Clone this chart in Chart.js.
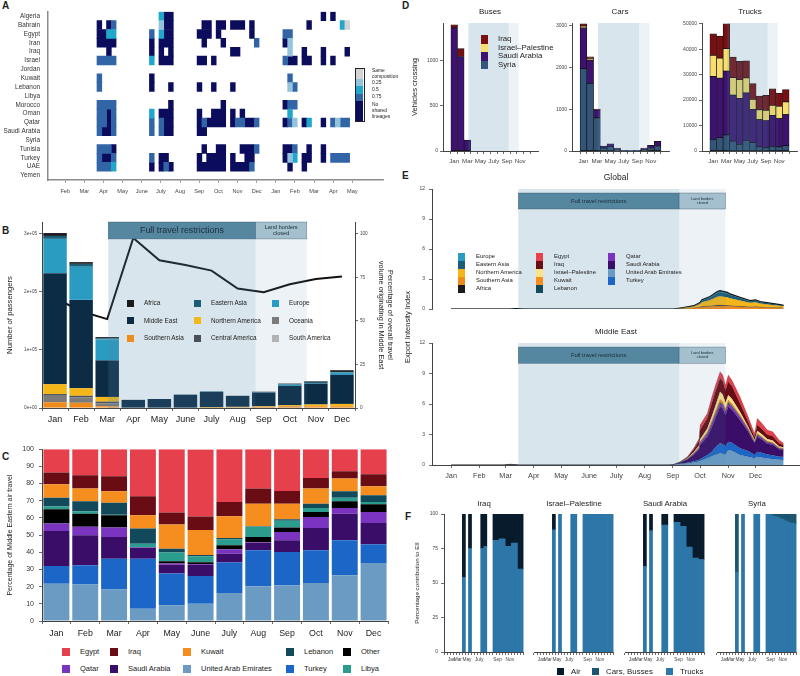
<!DOCTYPE html>
<html lang="en">
<head>
<meta charset="UTF-8">
<title>Middle East travel, restrictions and lineage export</title>
<script src="https://cdn.jsdelivr.net/npm/chart.js"></script>
<style>
  body { margin: 0; background: #fff; font-family: 'Liberation Sans', Arial, sans-serif; color: #222; }
  #page { position: relative; width: 800px; height: 676px; overflow: hidden; }
  .box { position: absolute; }
  .tag { position: absolute; font-weight: bold; font-size: 10px; line-height: 10px; }
  .lbl { position: absolute; white-space: pre; line-height: 1; color: #222; }
</style>
</head>
<body>
<div id="page">
  <div class="tag" style="left:2px;top:1px">A</div>
  <div class="tag" style="left:2px;top:226px">B</div>
  <div class="tag" style="left:2px;top:452px">C</div>
  <div class="tag" style="left:402px;top:1px">D</div>
  <div class="tag" style="left:402px;top:171px">E</div>
  <div class="tag" style="left:405px;top:512px">F</div>
</div>
<script>
// ---------- A: shared lineages between countries (weekly bins) ----------
const monthsA = ['Feb','Mar','Apr','May','June','July','Aug','Sep','Oct','Nov','Dec','Jan','Feb','Mar','Apr','May'];
const heatCountries = ['Algeria','Bahrain','Egypt','Iran','Iraq','Israel','Jordan','Kuwait','Lebanon','Libya',
  'Morocco','Oman','Qatar','Saudi Arabia','Syria','Tunisia','Turkey','UAE','Yemen'];
const heatLevels = ['Same\ncomposition', '0.25', '0.5', '0.75', 'No\nshared\nlineages'];
const heatColors = ['#d3d3d3', '#93c3dd', '#21a7cb', '#3265a6', '#0b0c5c'];
const weekOneAt = 2.66, weekLen = 0.249;   // first weekly bin, in month units
// per country: [first week, last week, level]
const heatCells = [
  [[13,13,2],[14,15,4],[47,47,4],[49,49,4]],
  [[0,0,4],[2,2,4],[3,3,3],[13,13,1],[14,15,4],[22,23,4],[25,26,4],[28,30,4],[32,32,4],[44,44,4],[51,51,2],[52,52,0]],
  [[0,1,4],[2,3,2],[11,11,3],[13,13,2],[14,15,4],[21,23,4],[25,25,4],[32,32,4],[39,40,3]],
  [[0,3,4],[11,11,4],[13,15,4],[22,22,4],[26,26,4],[33,33,3],[39,39,4],[40,40,1]],
  [[2,2,4],[11,11,4],[13,13,4],[15,15,4],[28,29,4],[40,40,1],[43,43,4],[47,47,4],[52,52,4]],
  [[0,3,3],[11,11,2],[13,15,4],[21,22,4],[24,24,4],[39,39,3],[40,41,4],[43,44,4],[47,47,4],[49,49,4]],
  [],
  [[0,0,3],[11,11,4],[40,40,3]],
  [[0,0,3],[11,11,4],[15,15,4],[21,21,4],[24,24,4],[28,28,4],[40,40,1],[41,41,3]],
  [],
  [[0,3,3],[15,15,4],[26,26,4],[39,39,4],[40,41,3]],
  [[0,1,3],[2,2,4],[3,3,3],[11,11,2],[13,15,4],[21,21,4],[24,26,4],[28,28,4],[30,30,4],[40,40,2]],
  [[0,1,3],[2,2,4],[3,3,3],[11,11,3],[13,13,3],[14,15,4],[21,21,4],[22,22,3],[23,26,4],[28,28,4],[29,30,3],[31,32,4],
   [33,33,3],[39,39,4],[40,40,3],[41,41,1],[43,43,4],[44,44,2],[47,47,4],[49,49,3],[50,50,1],[51,52,3]],
  [[0,0,3],[1,2,4],[3,3,3],[11,11,3],[13,13,3],[14,15,4],[21,22,4]],
  [],
  [[0,2,3],[3,3,4],[22,22,4],[25,26,4],[30,32,4],[33,33,3],[39,40,4],[41,41,3],[44,44,4],[47,47,4]],
  [[0,0,3],[1,2,4],[3,3,3],[11,11,3],[13,14,4],[21,21,4],[23,26,4],[28,28,4],[31,32,4],[39,39,4],[40,40,1],[41,41,2],
   [43,44,4],[47,47,4],[49,52,3]],
  [[0,2,3],[3,3,2],[11,11,4],[13,13,4],[14,14,3],[15,15,4],[21,26,4],[28,31,4],[32,32,3],[40,40,4],[43,43,4]],
  []
];

// ---------- B: air passengers by origin region ----------
const monthsB = ['Jan','Feb','Mar','Apr','May','June','July','Aug','Sep','Oct','Nov','Dec'];
const passAfrica          = [5000, 3000, 2000, 0, 0, 0, 0, 0, 1000, 1000, 1000, 3000];
const passEasternAsia     = [5000, 5000, 2000, 0, 0, 0, 1000, 0, 1000, 1000, 2000, 1000];
const passEurope          = [59000, 57000, 36000, 0, 0, 0, 0, 0, 0, 2000, 1000, 4000];
const passMiddleEast      = [191000, 152000, 63000, 14000, 15500, 23000, 26000, 19000, 23000, 33000, 36000, 50000];
const passNorthernAmerica = [17000, 13000, 8000, 0, 0, 0, 1000, 1000, 1000, 2000, 3000, 4000];
const passOceania         = [11000, 9000, 5000, 0, 0, 0, 0, 0, 0, 0, 0, 0];
const passSouthernAsia    = [10000, 9000, 3000, 0, 0, 0, 500, 1000, 2000, 3000, 3000, 3000];
const passCentralAmerica  = [3000, 3000, 3000, 0, 0, 0, 0, 0, 0, 0, 0, 0];
const passSouthAmerica    = [0, 0, 0, 0, 0, 0, 0, 0, 0, 0, 0, 0];
const shareMiddleEast     = [63, 55.5, 51, 97.5, 84.7, 82, 78.8, 68.5, 66.4, 71, 74, 75.5];
const ticksPassengers = [0, 100000, 200000, 300000];
const ticksShareME    = [0, 25, 50, 75, 100];
const periodsB = [2.04, 7.69, 9.65];   // restrictions start, land borders closed, reopening (month index)

// ---------- C: share of Middle Eastern air travel ----------
const shareUAE     = [21.7, 21.2, 18.4, 7.2, 9.1, 10.1, 16.3, 20.2, 20.8, 22.1, 26.6, 33.8];
const shareTurkey  = [10.3, 11.2, 17.9, 29.1, 18.5, 16.1, 17.7, 21.0, 19.4, 19.1, 20.4, 10.9];
const shareSaudi   = [20.4, 17.5, 12.6, 6.4, 5.2, 6.5, 5.2, 4.4, 6.8, 13.0, 15.5, 12.4];
const shareQatar   = [4.3, 4.9, 5.5, 0.3, 0.6, 0.5, 2.5, 0.3, 4.8, 6.4, 3.3, 6.4];
const shareOther   = [8.3, 7.7, 7.2, 0, 1.4, 1.0, 2.4, 3.0, 2.6, 2.9, 3.9, 4.5];
const shareLibya   = [1.6, 1.4, 0.3, 2.0, 5.0, 3.5, 3.3, 5.9, 3.9, 2.3, 2.1, 1.3];
const shareLebanon = [5.2, 5.8, 7.0, 8.8, 2.3, 0.7, 0.9, 0.3, 0.9, 2.5, 3.7, 3.9];
const shareKuwait  = [7.8, 7.4, 6.6, 7.8, 14.0, 14.6, 12.7, 13.2, 9.1, 8.8, 7.4, 5.2];
const shareIraq    = [6.8, 7.8, 8.8, 11.0, 7.0, 7.8, 8.3, 8.8, 7.4, 6.2, 4.3, 7.0];
const shareEgypt   = [13.6, 15.1, 15.7, 27.4, 36.9, 39.0, 30.7, 22.9, 24.3, 16.7, 12.8, 14.6];

// ---------- D: land border crossings ----------
const monthsD = ['Jan','','Mar','','May','','July','','Sep','','Nov',''];
const busSyria   = [0, 0, 0, 0, 0, 0, 0, 0, 0, 0, 0, 0];
const busSaudi   = [1365, 1048, 121, 0, 0, 0, 0, 0, 0, 0, 0, 0];
const busIsrael  = [0, 0, 0, 0, 0, 0, 0, 0, 0, 0, 0, 0];
const busIraq    = [35, 88, 0, 0, 0, 0, 0, 0, 0, 0, 0, 0];
const carSyria   = [1970, 1615, 792, 70, 100, 40, 10, 5, 10, 40, 60, 120];
const carSaudi   = [975, 555, 190, 50, 74, 31, 6, 5, 5, 31, 75, 110];
const carIsrael  = [40, 47, 0, 0, 0, 0, 0, 0, 0, 0, 0, 0];
const carIraq    = [55, 33, 23, 0, 0, 0, 0, 0, 0, 0, 0, 0];
const truckSyria  = [4600, 5200, 6300, 3900, 2600, 4200, 3300, 1600, 1200, 1800, 1600, 2100];
const truckSaudi  = [24700, 23400, 25100, 18100, 18100, 18600, 13100, 10700, 10700, 12200, 11100, 12200];
const truckIsrael = [8250, 7900, 8800, 6800, 7300, 5900, 3900, 3900, 4100, 3900, 4800, 5000];
const truckIraq   = [8500, 8650, 9800, 8100, 7200, 6700, 6150, 5400, 5900, 6550, 5250, 4800];
const ticksBus   = [0, 500, 1000];
const ticksCar   = [0, 1000, 2000, 3000];
const ticksTruck = [0, 10000, 20000, 30000, 40000, 50000];
const periodsD = [3.15, 9.25, 10.8];   // same periods, Jan = 1

// ---------- E: export intensity index (day of 2020) ----------
const monthStartDays = [0, 31, 60, 91, 121, 152, 182, 213, 244, 274, 305, 335];
const ticksEII = [0, 3, 6, 9, 12];
const periodsE = [74, 251, 302];
const globalDays = [0, 65, 72, 80, 245, 252, 260, 267, 274, 276, 285, 293, 296, 304, 307, 318, 329, 335, 340, 351, 362, 366];
const eiiSouthernAsia = [0, 0, 0.01, 0, 0, 0.03, 0.06, 0.09, 0.15, 0.2, 0.25, 0.3, 0.3, 0.28, 0.27, 0.22, 0.16, 0.18, 0.15, 0.12, 0.09, 0.08];
const eiiAfrica       = [0, 0, 0.01, 0, 0, 0.01, 0.02, 0.02, 0.04, 0.05, 0.06, 0.07, 0.07, 0.07, 0.06, 0.05, 0.04, 0.05, 0.04, 0.03, 0.03, 0.02];
const eiiNorthAm      = [0, 0, 0.01, 0, 0, 0.04, 0.09, 0.14, 0.3, 0.42, 0.58, 0.85, 0.9, 0.83, 0.75, 0.58, 0.42, 0.45, 0.36, 0.28, 0.2, 0.17];
const eiiEastAsia     = [0, 0, 0.01, 0, 0, 0.01, 0.03, 0.05, 0.1, 0.17, 0.25, 0.38, 0.42, 0.35, 0.31, 0.24, 0.16, 0.17, 0.14, 0.11, 0.08, 0.06];
const eiiEurope       = [0, 0, 0, 0, 0, 0.01, 0.02, 0.03, 0.06, 0.08, 0.11, 0.14, 0.15, 0.14, 0.12, 0.09, 0.07, 0.07, 0.06, 0.05, 0.03, 0.03];
const meDays = [0, 58, 66, 74, 240, 245, 252, 260, 267, 273, 274, 282, 287, 291, 296, 299, 302, 305, 309, 318, 327, 334, 337, 342, 348, 354, 361, 366];
const meUAE     = [0, 0, .02, 0, 0, .02, .08, .15, .25, .35, .39, .66, .85, 1.0, 1.15, 1.1, 1.0, 1.48, 1.4, .98, .82, .66, .82, .75, .65, .6, .52, .49];
const meTurkey  = [0, 0, 0, 0, 0, .01, .04, .08, .12, .15, .17, .32, .45, .75, .98, .95, .85, .81, .78, .66, .56, .32, .49, .45, .38, .36, .3, .33];
const meSaudi   = [0, 0, .04, 0, 0, .02, .1, .3, .65, 1.05, 1.41, 1.81, 2.45, 2.9, 3.61, 3.5, 3.05, 3.45, 3.25, 2.78, 1.9, 1.15, 1.48, 1.3, 1.07, 1.03, .72, .66];
const meQatar   = [0, 0, 0, 0, 0, 0, .01, .03, .05, .1, .16, .26, .3, .3, .32, .3, .28, .32, .3, .27, .16, .08, .16, .15, .12, .12, .08, .06];
const meLebanon = [0, 0, 0, 0, 0, 0, .01, .02, .03, .04, .05, .08, .1, .1, .12, .12, .1, .1, .1, .08, .06, .03, .06, .05, .05, .04, .03, .03];
const meKuwait  = [0, 0, 0, 0, 0, 0, .01, .03, .06, .1, .11, .15, .2, .25, .28, .27, .24, .23, .22, .15, .1, .05, .1, .09, .08, .07, .05, .07];
const meIsrael  = [0, 0, 0, 0, 0, 0, .02, .05, .1, .15, .23, .32, .45, .55, .75, .7, .6, .49, .46, .32, .17, .17, .27, .24, .2, .19, .12, .1];
const meIraq    = [0, 0, .02, 0, 0, .01, .04, .1, .26, .45, .92, .99, 1.3, 1.4, 1.31, 1.3, 1.2, 1.31, 1.25, .82, .49, .26, .55, .5, .42, .42, .3, .23];
const meEgypt   = [0, 0, .01, 0, 0, 0, .02, .06, .12, .23, .49, .49, .62, .62, .66, .61, .55, .66, .6, .66, .49, .39, .66, .57, .47, .45, .34, .16];

// ---------- F: contribution to EII by transport mode (26 slots) ----------
const fSlots = ['', '', 'Jan', '', 'Mar', '', '', 'May', '', '', '', 'July', '', '', '', '', '', 'Sep', '', '', '', 'Nov', '', '', '', ''];
const ticksPct = [0, 25, 50, 75, 100];
const N = null;
const iraqTrucks   = [N,N,N,N,N,N,54,N,75,N,N,N,75,76.5,N,N,81,81,82,82,76.5,76.5,79,79,60,60];
const iraqAir      = [N,N,N,N,N,N,46,N,25,N,N,N,25,23.5,N,N,19,19,18,18,23.5,23.5,21,21,40,40];
const israelTrucks = [N,N,N,N,N,N,88.6,N,100,N,N,N,100,100,N,N,100,100,100,100,100,100,100,100,100,100];
const israelAir    = [N,N,N,N,N,N,11.4,N,N,N,N,N,N,N,N,N,N,N,N,N,N,N,N,N,N,N];
const saudiTrucks  = [N,N,N,N,N,N,62,N,88,N,N,N,92,92,N,N,94,94,91,91,76,76,68,68,67,67];
const saudiAir     = [N,N,N,N,N,N,38,N,12,N,N,N,8,8,N,N,6,6,9,9,24,24,32,32,33,33];
const syriaTrucks  = [N,N,N,N,N,N,58,N,100,N,N,N,100,100,N,N,100,99.5,98.5,98,97,96,95,94,93.5,93];
const syriaCars    = [N,N,N,N,N,N,42,N,N,N,N,N,N,N,N,N,0,0.5,1.5,2,3,4,5,6,6.5,7];

// ---------- colours ----------
const regionColors = { 'Africa': '#1b1b1d', 'Eastern Asia': '#1c5d78', 'Europe': '#2b9cc1', 'Middle East': '#0c2b44',
  'Northern America': '#f4b619', 'Oceania': '#7b7b7b', 'Southern Asia': '#ef8a1d', 'Central America': '#4b5057', 'South America': '#b3b3b3' };
const countryColors = { 'Egypt': '#e5404c', 'Iraq': '#690c14', 'Kuwait': '#f58e1e', 'Lebanon': '#124a5b', 'Other': '#000000',
  'Qatar': '#7a34c0', 'Saudi Arabia': '#3a0e68', 'United Arab Emirates': '#6b9bc3', 'Turkey': '#1c66c8', 'Libya': '#2a9d8e',
  'Israel–Palestine': '#fbe38a' };
const borderColors = { 'Iraq': '#7a0f12', 'Israel–Palestine': '#f7de6f', 'Saudi Arabia': '#3e1270', 'Syria': '#335579' };
const modeColors = { 'Air': '#071b2d', 'Cars, Busses': '#1b5571', 'Trucks': '#2c76a8' };
const SH_FULL = 'rgba(80,135,170,0.22)', SH_LAND = 'rgba(80,135,170,0.11)';
const HB_FULL = '#5687a1', HB_LAND = '#a4c0ce';

// ---------- helpers ----------
Chart.defaults.font.family = "'Liberation Sans', Arial, sans-serif";
Chart.defaults.color = '#333';
Chart.defaults.animation = false;
Chart.defaults.events = [];
Chart.defaults.maintainAspectRatio = false;
Chart.defaults.plugins.legend.display = false;
Chart.defaults.plugins.tooltip.enabled = false;

const page = document.getElementById('page');

function merge(a, b) {
  for (const k in b) {
    const v = b[k];
    if (v && typeof v === 'object' && !Array.isArray(v) && a[k] && typeof a[k] === 'object') merge(a[k], v);
    else a[k] = v;
  }
  return a;
}
function axis(extra, col) {
  const c = col || '#444';
  return merge({
    grid: { display: true, drawOnChartArea: false, drawTicks: true, tickLength: 3, color: c, lineWidth: 0.8 },
    border: { display: true, color: c, width: 1 },
    ticks: { font: { size: 5 }, color: '#444', padding: 2, maxRotation: 0, autoSkip: false }
  }, extra || {});
}
const fixW = w => s => { s.width = w; };
const fixH = h => s => { s.height = h; };
const tickAt = list => s => { s.ticks = list.map(v => ({ value: v })); };

function canvasAt(left, top, w, h) {
  const d = document.createElement('div');
  d.className = 'box';
  d.style.cssText = `left:${left}px;top:${top}px;width:${w}px;height:${h}px`;
  const c = document.createElement('canvas');
  d.appendChild(c);
  page.appendChild(d);
  return c;
}
function text(str, left, top, css) {
  const t = document.createElement('div');
  t.className = 'lbl';
  t.textContent = str;
  t.style.cssText = `left:${left}px;top:${top}px;` + (css || '');
  page.appendChild(t);
  return t;
}
function centered(str, x, y, size, css) {
  return text(str, x, y, `font-size:${size}px;transform:translate(-50%,-50%);` + (css || ''));
}
// legend keys: items [[name, colour]], cfg {cols, rows, w, h, gap, font, byCol}
function legend(items, cfg) {
  items.forEach(([name, color], i) => {
    const nr = cfg.rows.length, nc = cfg.cols.length;
    const c = cfg.byCol ? Math.floor(i / nr) : i % nc;
    const r = cfg.byCol ? i % nr : Math.floor(i / nc);
    const sq = document.createElement('div');
    sq.className = 'box';
    sq.style.cssText = `left:${cfg.cols[c]}px;top:${cfg.rows[r]}px;width:${cfg.w}px;height:${cfg.h}px;background:${color}`;
    page.appendChild(sq);
    text(name, cfg.cols[c] + cfg.gap, cfg.rows[r] + cfg.h / 2, `font-size:${cfg.font}px;transform:translateY(-50%)`);
  });
}

// restriction periods drawn over the plot (semi-transparent) with optional header boxes
const shadePlugin = {
  id: 'shade',
  afterDatasetsDraw(chart, args, o) {
    if (!o || !o.bands) return;
    const { ctx, chartArea: a } = chart;
    const xs = chart.scales.x;
    ctx.save();
    o.bands.forEach(b => {
      const x0 = xs.getPixelForValue(b.from), x1 = xs.getPixelForValue(b.to);
      ctx.fillStyle = b.fill;
      ctx.fillRect(x0, a.top, x1 - x0, a.bottom - a.top);
    });
    if (o.header) {
      const ys = chart.scales[o.header.axis];
      const yt = ys.getPixelForValue(o.header.top), yb = ys.getPixelForValue(o.header.bottom);
      o.bands.forEach(b => {
        const x0 = xs.getPixelForValue(b.from), x1 = xs.getPixelForValue(b.to);
        ctx.fillStyle = b.box;
        ctx.fillRect(x0, yt, x1 - x0, yb - yt);
        ctx.strokeStyle = 'rgba(40,70,90,0.55)';
        ctx.lineWidth = 0.6;
        ctx.strokeRect(x0, yt, x1 - x0, yb - yt);
        ctx.fillStyle = '#1c2c38';
        ctx.font = `${b.size}px 'Liberation Sans', Arial, sans-serif`;
        ctx.textAlign = 'center';
        ctx.textBaseline = 'middle';
        const lh = b.size * 1.1, cy = (yt + yb) / 2;
        b.text.forEach((t, i) => ctx.fillText(t, (x0 + x1) / 2, cy + (i - (b.text.length - 1) / 2) * lh));
      });
    }
    ctx.restore();
  }
};
Chart.register(shadePlugin);
function bands(p, fullSize, landSize) {
  return [
    { from: p[0], to: p[1], fill: SH_FULL, box: HB_FULL, text: ['Full travel restrictions'], size: fullSize },
    { from: p[1], to: p[2], fill: SH_LAND, box: HB_LAND, text: ['Land borders', 'closed'], size: landSize }
  ];
}

// ---------- A ----------
const weekToMonth = w => weekOneAt + w * weekLen;
const heatSets = heatLevels.map((name, li) => ({
  label: name, data: [], backgroundColor: heatColors[li],
  grouped: false, barPercentage: 1, categoryPercentage: 1, borderWidth: 0
}));
heatCountries.forEach((c, ci) => heatCells[ci].forEach(([w0, w1, lv]) => {
  heatSets[lv].data.push({ y: c, x: [weekToMonth(w0), weekToMonth(w1 + 1)] });
}));
new Chart(canvasAt(0, 0, 400, 200), {
  type: 'bar',
  data: { labels: heatCountries, datasets: heatSets },
  options: {
    indexAxis: 'y',
    layout: { padding: { top: 2, right: 17, left: 0, bottom: 0 } },
    scales: {
      x: axis({
        type: 'linear', min: 0.1, max: 17.6,
        afterBuildTicks: tickAt(monthsA.map((_, i) => i + 1)),
        ticks: { callback: v => monthsA[v - 1], font: { size: 5.6 }, padding: 5 },
        border: { width: 1.5 }, afterFit: fixH(20)
      }, '#8c8c8c'),
      y: axis({
        type: 'category',
        grid: { drawTicks: false },
        ticks: { font: { size: 6.4 }, color: '#333', padding: 8 },
        border: { width: 1.5 }, afterFit: fixW(48)
      }, '#8c8c8c')
    }
  }
});
// colour key for A
const keyTops = [68, 79, 86, 93.5, 100.7, 120.7];
heatLevels.forEach((name, i) => {
  const sq = document.createElement('div');
  sq.className = 'box';
  sq.style.cssText = `left:355px;top:${keyTops[i]}px;width:8px;height:${keyTops[i + 1] - keyTops[i]}px;background:${heatColors[i]}`;
  page.appendChild(sq);
  text(name, 372, (keyTops[i] + keyTops[i + 1]) / 2, 'font-size:4.9px;line-height:6px;transform:translateY(-50%)');
});
const keyFrame = document.createElement('div');
keyFrame.className = 'box';
keyFrame.style.cssText = 'left:354.5px;top:67.5px;width:8px;height:52.7px;border:0.7px solid #222';
page.appendChild(keyFrame);

// ---------- B ----------
const regionLegend = ['Africa','Eastern Asia','Europe','Middle East','Northern America','Oceania','Southern Asia','Central America','South America'];
const regionStack = [
  ['Southern Asia', passSouthernAsia], ['Oceania', passOceania], ['Central America', passCentralAmerica],
  ['South America', passSouthAmerica], ['Northern America', passNorthernAmerica], ['Middle East', passMiddleEast],
  ['Europe', passEurope], ['Eastern Asia', passEasternAsia], ['Africa', passAfrica]
];
new Chart(canvasAt(0, 215, 400, 215), {
  type: 'bar',
  data: {
    labels: monthsB,
    datasets: regionStack.map(([name, vals]) => ({
      label: name, data: vals, backgroundColor: regionColors[name], yAxisID: 'y',
      barPercentage: 0.9, categoryPercentage: 1, order: 1
    })).concat([{
      type: 'line', label: 'Middle East share', data: shareMiddleEast, yAxisID: 'y2',
      borderColor: '#111', borderWidth: 2, pointRadius: 0, tension: 0, order: 5
    }])
  },
  options: {
    layout: { padding: { top: 7, right: 0, left: 0, bottom: 0 } },
    plugins: { shade: { bands: bands(periodsB, 8.9, 5.6), header: { axis: 'y2', top: 106.7, bottom: 97 } } },
    scales: {
      x: axis({ stacked: true, ticks: { font: { size: 9 }, color: '#222', padding: 3 }, afterFit: fixH(22) }),
      y: axis({
        stacked: true, min: 0, max: 320000,
        afterBuildTicks: tickAt(ticksPassengers),
        ticks: { font: { size: 4.6 }, callback: v => v.toExponential().replace(/e\+(\d)$/, 'e+0$1') },
        title: { display: true, text: 'Number of passengers', font: { size: 7.7 }, color: '#222', padding: { top: 5, bottom: 0 } },
        afterFit: fixW(42)
      }),
      y2: axis({
        position: 'right', min: 0, max: 106.7,
        afterBuildTicks: tickAt(ticksShareME),
        ticks: { font: { size: 4.6 } },
        title: { display: true, text: ['Percentage of overall travel', 'volume originating in Middle East'],
          font: { size: 7.4 }, color: '#222', padding: { top: 6, bottom: 0 } },
        afterFit: fixW(45)
      })
    }
  }
});
legend(regionLegend.map(n => [n, regionColors[n]]),
  { cols: [127, 194, 272], rows: [299.5, 317, 334.5], w: 7, h: 7, gap: 17, font: 6.4 });

// ---------- C ----------
const shareStack = [
  ['United Arab Emirates', shareUAE], ['Turkey', shareTurkey], ['Saudi Arabia', shareSaudi], ['Qatar', shareQatar],
  ['Other', shareOther], ['Libya', shareLibya], ['Lebanon', shareLebanon], ['Kuwait', shareKuwait],
  ['Iraq', shareIraq], ['Egypt', shareEgypt]
];
new Chart(canvasAt(0, 440, 400, 205), {
  type: 'bar',
  data: {
    labels: monthsB,
    datasets: shareStack.map(([name, vals]) => ({
      label: name, data: vals, backgroundColor: countryColors[name], barPercentage: 0.9, categoryPercentage: 1
    }))
  },
  options: {
    layout: { padding: { top: 9, right: 12, left: 0, bottom: 0 } },
    scales: {
      x: axis({ stacked: true, ticks: { font: { size: 8.8 }, color: '#222', padding: 4 }, afterFit: fixH(24) }),
      y: axis({
        stacked: true, min: 0, max: 100,
        ticks: { stepSize: 10, font: { size: 7 }, color: '#333', padding: 5 },
        title: { display: true, text: 'Percentage of Middle Eastern air travel', font: { size: 7 }, color: '#222', padding: { top: 6, bottom: 0 } },
        afterFit: fixW(42)
      })
    }
  }
});
legend(['Egypt','Iraq','Kuwait','Lebanon','Other','Qatar','Saudi Arabia','United Arab Emirates','Turkey','Libya'].map(n => [n, countryColors[n]]),
  { cols: [62, 110, 183, 286, 343], rows: [648, 665], w: 8, h: 8, gap: 18, font: 7.5 });

// ---------- D ----------
function crossingChart(left, width, yw, padRight, series, max, yTicks, withTitle) {
  const names = ['Syria', 'Saudi Arabia', 'Israel–Palestine', 'Iraq'];
  return new Chart(canvasAt(left, 0, width, 172), {
    type: 'bar',
    data: {
      datasets: series.map((vals, k) => ({
        label: names[k], data: vals.map((v, i) => ({ x: i + 1, y: v })),
        backgroundColor: borderColors[names[k]], borderColor: '#111', borderWidth: 0.7, borderSkipped: false,
        barPercentage: 1, categoryPercentage: 1, grouped: false
      }))
    },
    options: {
      layout: { padding: { top: 23, right: padRight, left: 0, bottom: 0 } },
      plugins: { shade: { bands: bands(periodsD, 1, 1).map(b => ({ from: b.from, to: b.to, fill: b.fill })) } },
      scales: {
        x: axis({
          type: 'linear', min: -0.1, max: 13.1,
          afterBuildTicks: tickAt(monthsD.map((_, i) => i + 1)),
          ticks: { callback: v => monthsD[v - 1], font: { size: 6.2 }, padding: 4 }, afterFit: fixH(21)
        }),
        y: axis({
          stacked: true, min: 0, max: max,
          afterBuildTicks: tickAt(yTicks),
          ticks: { font: { size: 5 }, callback: v => String(v) },
          title: { display: withTitle, text: 'Vehicles crossing', font: { size: 7.5 }, color: '#222', padding: { top: 10, bottom: 0 } },
          afterFit: fixW(yw)
        })
      }
    }
  });
}
crossingChart(400, 140, 43, 2, [busSyria, busSaudi, busIsrael, busIraq], 1420, ticksBus, true);
crossingChart(545, 126, 27, 2, [carSyria, carSaudi, carIsrael, carIraq], 3060, ticksCar, false);
crossingChart(672, 128, 30, 3, [truckSyria, truckSaudi, truckIsrael, truckIraq], 50300, ticksTruck, false);
centered('Buses', 490, 12, 8);
centered('Cars', 620, 12, 8);
centered('Trucks', 750, 12, 8);
legend(['Iraq', 'Israel–Palestine', 'Saudi Arabia', 'Syria'].map(n => [n, borderColors[n]]),
  { cols: [481], rows: [35, 43.5, 52, 60.5], w: 7, h: 8.5, gap: 17, font: 7.8 });

// ---------- E ----------
function eiiChart(top, height, padTop, xAxisShown, days, layers, outline) {
  return new Chart(canvasAt(400, top, 400, height), {
    type: 'line',
    data: {
      datasets: layers.map(([name, vals, color], k) => ({
        label: name, data: days.map((d, i) => ({ x: d, y: vals[i] })),
        backgroundColor: color, fill: k === 0 ? 'origin' : '-1',
        borderColor: (outline && k === layers.length - 1) ? '#111' : 'rgba(0,0,0,0.35)',
        borderWidth: (outline && k === layers.length - 1) ? 1.2 : 0.4, pointRadius: 0, tension: 0
      }))
    },
    options: {
      layout: { padding: { top: padTop, right: 0, left: 0, bottom: xAxisShown ? 0 : 5 } },
      plugins: { shade: { bands: bands(periodsE, 5.9, 3.8), header: { axis: 'y', top: 11.6, bottom: 10.0 } } },
      scales: {
        x: axis({
          type: 'linear', min: -21, max: 384, display: xAxisShown,
          afterBuildTicks: tickAt(monthStartDays),
          ticks: { callback: (v, i) => monthsB[i], font: { size: 7.3 }, padding: 4 },
          afterFit: fixH(xAxisShown ? 22 : 0)
        }),
        y: axis({
          stacked: true, min: 0, max: 12,
          afterBuildTicks: tickAt(ticksEII),
          ticks: { font: { size: 5 }, padding: 4 }, afterFit: fixW(32)
        })
      }
    }
  });
}
eiiChart(180, 136, 9, false, globalDays, [
  ['Southern Asia', eiiSouthernAsia, regionColors['Southern Asia']],
  ['Africa', eiiAfrica, regionColors['Africa']],
  ['Northern America', eiiNorthAm, regionColors['Northern America']],
  ['Eastern Asia', eiiEastAsia, regionColors['Eastern Asia']],
  ['Europe', eiiEurope, regionColors['Europe']]
], true);
eiiChart(335, 152, 8, true, meDays, [
  ['United Arab Emirates', meUAE, countryColors['United Arab Emirates']],
  ['Turkey', meTurkey, countryColors['Turkey']],
  ['Saudi Arabia', meSaudi, countryColors['Saudi Arabia']],
  ['Qatar', meQatar, countryColors['Qatar']],
  ['Lebanon', meLebanon, countryColors['Lebanon']],
  ['Kuwait', meKuwait, countryColors['Kuwait']],
  ['Israel–Palestine', meIsrael, countryColors['Israel–Palestine']],
  ['Iraq', meIraq, countryColors['Iraq']],
  ['Egypt', meEgypt, countryColors['Egypt']]
], false);
centered('Global', 616, 177, 8.5);
centered('Middle East', 616, 332, 8);
centered('Export Intensity Index', 408, 327, 7.5, 'transform:translate(-50%,-50%) rotate(-90deg)');
legend([
  ['Europe', regionColors['Europe']], ['Eastern Asia', regionColors['Eastern Asia']],
  ['Northern America', regionColors['Northern America']], ['Southern Asia', regionColors['Southern Asia']],
  ['Africa', regionColors['Africa']],
  ['Egypt', countryColors['Egypt']], ['Iraq', countryColors['Iraq']], ['Israel–Palestine', countryColors['Israel–Palestine']],
  ['Kuwait', countryColors['Kuwait']], ['Lebanon', countryColors['Lebanon']],
  ['Qatar', countryColors['Qatar']], ['Saudi Arabia', countryColors['Saudi Arabia']],
  ['United Arab Emirates', countryColors['United Arab Emirates']], ['Turkey', countryColors['Turkey']]
], { cols: [458, 536, 608], rows: [252.5, 260.5, 268.5, 276.5, 284.5], w: 7, h: 8, gap: 18, font: 5.9, byCol: true });

// ---------- F ----------
function modeChart(left, width, yShown, trucks, cars, air) {
  const sets = [['Trucks', trucks], ['Cars, Busses', cars], ['Air', air]];
  return new Chart(canvasAt(left, 508, width, 162), {
    type: 'bar',
    data: {
      labels: fSlots,
      datasets: sets.map(([name, vals]) => ({
        label: name, data: vals, backgroundColor: modeColors[name], barPercentage: 1, categoryPercentage: 1, borderWidth: 0
      }))
    },
    options: {
      layout: { padding: { top: 6, right: 0, left: yShown ? 0 : 6, bottom: 0 } },
      scales: {
        x: axis({ stacked: true, ticks: { font: { size: 4.8 }, padding: 2 }, afterFit: fixH(18) }),
        y: axis({
          stacked: true, min: 0, max: 100, display: yShown,
          afterBuildTicks: tickAt(ticksPct),
          ticks: { font: { size: 5 }, padding: 3 },
          title: { display: true, text: 'Percentage contribution to EII', font: { size: 6.2 }, color: '#222', padding: { top: 14, bottom: 0 } },
          afterFit: fixW(yShown ? 44 : 0)
        })
      }
    }
  });
}
const none = fSlots.map(() => null);
modeChart(400, 124, true, iraqTrucks, none, iraqAir);
modeChart(528, 86, false, israelTrucks, none, israelAir);
modeChart(619, 86, false, saudiTrucks, none, saudiAir);
modeChart(711, 86, false, syriaTrucks, syriaCars, none);
centered('Iraq', 484, 504, 7.8);
centered('Israel–Palestine', 574, 504, 7.8);
centered('Saudi Arabia', 665, 504, 7.8);
centered('Syria', 757, 504, 7.8);
legend(['Air', 'Cars, Busses', 'Trucks'].map(n => [n, modeColors[n]]),
  { cols: [557, 592, 666], rows: [668], w: 7, h: 7, gap: 14, font: 7.9 });
</script>
</body>
</html>
